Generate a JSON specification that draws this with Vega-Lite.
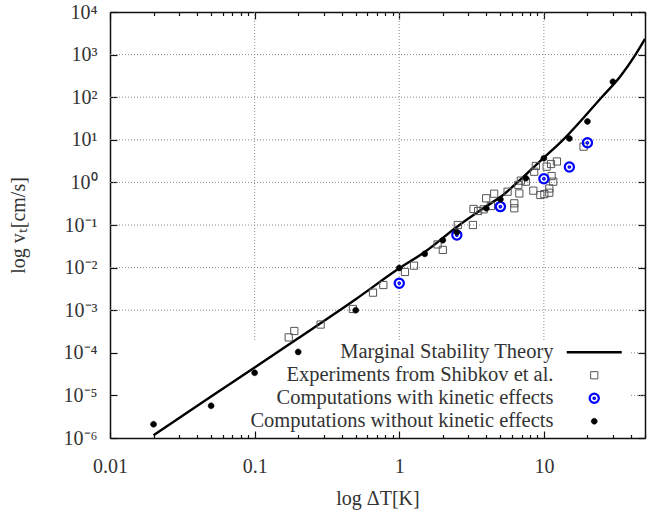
{
  "$schema": "https://vega.github.io/schema/vega-lite/v6.json",
  "width": 535,
  "height": 426,
  "autosize": {"type": "none"},
  "padding": {"left": 110, "top": 12, "right": 27, "bottom": 81},
  "background": "white",
  "config": {
    "view": {"stroke": null},
    "font": "Liberation Serif",
    "axis": {"labelFont": "Liberation Serif", "titleFont": "Liberation Serif", "labelColor": "#333", "titleColor": "#333", "titleFontWeight": "normal", "domainColor": "#111", "domainWidth": 1.5, "tickColor": "#111", "tickWidth": 1.2, "grid": false, "labelFlush": false, "labelOverlap": false},
    "legend": {"orient": "none", "legendX": 474, "legendY": 330, "title": null, "labelAlign": "right", "labelOffset": -51, "labelFont": "Liberation Serif", "labelFontSize": 20.5, "labelColor": "#333", "rowPadding": 2, "padding": 0, "symbolOpacity": 1, "labelLimit": 500, "columns": 1, "direction": "vertical", "offset": 0}
  },
  "datasets": {
    "hgrid": [
      {"v": 0.001, "from": 0.01, "to": 50},
      {"v": 0.01, "from": 0.01, "to": 50},
      {"v": 0.1, "from": 0.01, "to": 50},
      {"v": 1, "from": 0.01, "to": 50},
      {"v": 10, "from": 0.01, "to": 50},
      {"v": 100, "from": 0.01, "to": 50},
      {"v": 1000, "from": 0.01, "to": 50},
      {"v": 0.0001, "from": 40, "to": 50},
      {"v": 0.00001, "from": 40, "to": 50}
    ],
    "vgrid": [
      {"v": 0.1, "from": 0.0002, "to": 10000},
      {"v": 1, "from": 0.0002, "to": 10000},
      {"v": 10, "from": 0.0002, "to": 10000}
    ],
    "theory": [
      {"dT": 0.02, "v": 1.16e-6},
      {"dT": 0.05, "v": 9.4e-6},
      {"dT": 0.1, "v": 4.5e-5},
      {"dT": 0.2, "v": 2.19e-4},
      {"dT": 0.5, "v": 1.81e-3},
      {"dT": 1.0, "v": 9.6e-3},
      {"dT": 1.51, "v": 0.0236},
      {"dT": 2.51, "v": 0.0912},
      {"dT": 4.02, "v": 0.279},
      {"dT": 5.03, "v": 0.461},
      {"dT": 6.84, "v": 1.14},
      {"dT": 10.0, "v": 3.8},
      {"dT": 13.56, "v": 10},
      {"dT": 25.1, "v": 100},
      {"dT": 33.6, "v": 303},
      {"dT": 43.0, "v": 1000},
      {"dT": 50, "v": 2340}
    ],
    "points": [
      {"dT": 0.172, "v": 2.3e-4, "series": "Experiments from Shibkov et al."},
      {"dT": 0.188, "v": 3.25e-4, "series": "Experiments from Shibkov et al."},
      {"dT": 0.286, "v": 4.6e-4, "series": "Experiments from Shibkov et al."},
      {"dT": 0.478, "v": 1.07e-3, "series": "Experiments from Shibkov et al."},
      {"dT": 0.658, "v": 2.58e-3, "series": "Experiments from Shibkov et al."},
      {"dT": 0.776, "v": 3.9e-3, "series": "Experiments from Shibkov et al."},
      {"dT": 1.095, "v": 7.9e-3, "series": "Experiments from Shibkov et al."},
      {"dT": 1.265, "v": 0.0111, "series": "Experiments from Shibkov et al."},
      {"dT": 1.84, "v": 0.035, "series": "Experiments from Shibkov et al."},
      {"dT": 2.0, "v": 0.026, "series": "Experiments from Shibkov et al."},
      {"dT": 2.54, "v": 0.1, "series": "Experiments from Shibkov et al."},
      {"dT": 3.23, "v": 0.1, "series": "Experiments from Shibkov et al."},
      {"dT": 3.26, "v": 0.238, "series": "Experiments from Shibkov et al."},
      {"dT": 3.51, "v": 0.213, "series": "Experiments from Shibkov et al."},
      {"dT": 3.83, "v": 0.233, "series": "Experiments from Shibkov et al."},
      {"dT": 3.99, "v": 0.424, "series": "Experiments from Shibkov et al."},
      {"dT": 4.53, "v": 0.543, "series": "Experiments from Shibkov et al."},
      {"dT": 4.3, "v": 0.279, "series": "Experiments from Shibkov et al."},
      {"dT": 5.61, "v": 0.605, "series": "Experiments from Shibkov et al."},
      {"dT": 6.24, "v": 0.323, "series": "Experiments from Shibkov et al."},
      {"dT": 6.24, "v": 0.247, "series": "Experiments from Shibkov et al."},
      {"dT": 6.76, "v": 0.55, "series": "Experiments from Shibkov et al."},
      {"dT": 6.65, "v": 0.87, "series": "Experiments from Shibkov et al."},
      {"dT": 6.93, "v": 1.1, "series": "Experiments from Shibkov et al."},
      {"dT": 7.5, "v": 1.04, "series": "Experiments from Shibkov et al."},
      {"dT": 8.57, "v": 1.78, "series": "Experiments from Shibkov et al."},
      {"dT": 8.8, "v": 2.43, "series": "Experiments from Shibkov et al."},
      {"dT": 8.45, "v": 0.64, "series": "Experiments from Shibkov et al."},
      {"dT": 9.45, "v": 0.506, "series": "Experiments from Shibkov et al."},
      {"dT": 10.07, "v": 0.53, "series": "Experiments from Shibkov et al."},
      {"dT": 10.9, "v": 0.573, "series": "Experiments from Shibkov et al."},
      {"dT": 10.9, "v": 0.72, "series": "Experiments from Shibkov et al."},
      {"dT": 10.45, "v": 2.34, "series": "Experiments from Shibkov et al."},
      {"dT": 11.2, "v": 2.7, "series": "Experiments from Shibkov et al."},
      {"dT": 12.3, "v": 3.1, "series": "Experiments from Shibkov et al."},
      {"dT": 11.3, "v": 1.41, "series": "Experiments from Shibkov et al."},
      {"dT": 11.6, "v": 1.04, "series": "Experiments from Shibkov et al."},
      {"dT": 18.8, "v": 6.9, "series": "Experiments from Shibkov et al."},
      {"dT": 1.0, "v": 4.3e-3, "series": "Computations with kinetic effects"},
      {"dT": 2.5, "v": 0.058, "series": "Computations with kinetic effects"},
      {"dT": 5.0, "v": 0.27, "series": "Computations with kinetic effects"},
      {"dT": 10.0, "v": 1.22, "series": "Computations with kinetic effects"},
      {"dT": 15.0, "v": 2.3, "series": "Computations with kinetic effects"},
      {"dT": 20.0, "v": 8.5, "series": "Computations with kinetic effects"},
      {"dT": 0.02, "v": 2.1e-6, "series": "Computations without kinetic effects"},
      {"dT": 0.05, "v": 5.7e-6, "series": "Computations without kinetic effects"},
      {"dT": 0.1, "v": 3.4e-5, "series": "Computations without kinetic effects"},
      {"dT": 0.2, "v": 1.05e-4, "series": "Computations without kinetic effects"},
      {"dT": 0.5, "v": 1.0e-3, "series": "Computations without kinetic effects"},
      {"dT": 1.0, "v": 9.8e-3, "series": "Computations without kinetic effects"},
      {"dT": 1.5, "v": 0.021, "series": "Computations without kinetic effects"},
      {"dT": 2.0, "v": 0.044, "series": "Computations without kinetic effects"},
      {"dT": 2.5, "v": 0.068, "series": "Computations without kinetic effects"},
      {"dT": 4.0, "v": 0.247, "series": "Computations without kinetic effects"},
      {"dT": 5.0, "v": 0.4, "series": "Computations without kinetic effects"},
      {"dT": 7.5, "v": 1.25, "series": "Computations without kinetic effects"},
      {"dT": 10.0, "v": 3.7, "series": "Computations without kinetic effects"},
      {"dT": 15.0, "v": 10.8, "series": "Computations without kinetic effects"},
      {"dT": 20.0, "v": 27, "series": "Computations without kinetic effects"},
      {"dT": 30.0, "v": 230, "series": "Computations without kinetic effects"}
    ]
  },
  "layer": [
    {
      "data": {"name": "hgrid"},
      "mark": {"type": "rule", "color": "#8a8a8a", "strokeDash": [1, 2], "strokeWidth": 1},
      "encoding": {
        "x": {
          "field": "from", "type": "quantitative",
          "scale": {"type": "log", "domain": [0.01, 50], "nice": false},
          "axis": {
            "orient": "bottom",
            "values": [0.01, 0.02, 0.03, 0.04, 0.05, 0.06, 0.07, 0.08, 0.09, 0.1, 0.2, 0.3, 0.4, 0.5, 0.6, 0.7, 0.8, 0.9, 1, 2, 3, 4, 5, 6, 7, 8, 9, 10, 20, 30, 40, 50],
            "format": "~g",
            "labelExpr": "indexof([0.01, 0.1, 1, 10], datum.value) >= 0 ? datum.label : ''",
            "tickSize": {"expr": "indexof([0.01, 0.1, 1, 10], datum.value) >= 0 ? -7 : -3.5"},
            "labelPadding": 25,
            "labelFontSize": 20,
            "title": "log ΔT[K]",
            "titleFontSize": 20,
            "titlePadding": 9
          }
        },
        "x2": {"field": "to"},
        "y": {
          "field": "v", "type": "quantitative",
          "scale": {"type": "log", "domain": [0.000001, 10000], "nice": false},
          "axis": {
            "orient": "left",
            "values": [0.000001, 0.00001, 0.0001, 0.001, 0.01, 0.1, 1, 10, 100, 1000, 10000],
            "labelExpr": "'10' + (datum.value < 1 ? '⁻' : '') + ['⁰','¹','²','³','⁴','⁵','⁶','⁷','⁸','⁹'][abs(round(log(datum.value) / LN10))]",
            "tickSize": -7,
            "labelPadding": 20,
            "labelFontSize": 20,
            "labelAlign": "right",
            "labelBaseline": "middle",
            "title": "log vₜ[cm/s]",
            "titleFontSize": 20,
            "titlePadding": 35
          }
        }
      }
    },
    {
      "data": {"name": "vgrid"},
      "mark": {"type": "rule", "color": "#8a8a8a", "strokeDash": [1, 2], "strokeWidth": 1},
      "encoding": {
        "x": {
          "field": "v", "type": "quantitative",
          "scale": {"type": "log", "domain": [0.01, 50], "nice": false},
          "axis": {
            "orient": "top",
            "values": [0.01, 0.02, 0.03, 0.04, 0.05, 0.06, 0.07, 0.08, 0.09, 0.1, 0.2, 0.3, 0.4, 0.5, 0.6, 0.7, 0.8, 0.9, 1, 2, 3, 4, 5, 6, 7, 8, 9, 10, 20, 30, 40, 50],
            "labels": false,
            "tickSize": {"expr": "indexof([0.01, 0.1, 1, 10], datum.value) >= 0 ? -7 : -3.5"},
            "title": null
          }
        },
        "y": {
          "field": "from", "type": "quantitative",
          "scale": {"type": "log", "domain": [0.000001, 10000], "nice": false},
          "axis": {
            "orient": "right",
            "values": [0.000001, 0.00001, 0.0001, 0.001, 0.01, 0.1, 1, 10, 100, 1000, 10000],
            "labels": false,
            "tickSize": -7,
            "title": null
          }
        },
        "y2": {"field": "to"}
      }
    },
    {
      "data": {"name": "theory"},
      "mark": {"type": "line", "color": "black", "strokeWidth": 2.4, "interpolate": "monotone", "clip": true},
      "encoding": {
        "x": {"field": "dT", "type": "quantitative", "axis": null},
        "y": {"field": "v", "type": "quantitative", "axis": null}
      }
    },
    {
      "data": {"name": "points"},
      "mark": {"type": "point", "opacity": 1, "size": 100},
      "encoding": {
        "x": {"field": "dT", "type": "quantitative", "axis": null},
        "y": {"field": "v", "type": "quantitative", "axis": null},
        "shape": {
          "field": "series", "type": "nominal",
          "scale": {
            "domain": ["Marginal Stability Theory", "Experiments from Shibkov et al.", "Computations with kinetic effects", "Computations without kinetic effects"],
            "range": ["M-5.5,0L5.5,0", "M-0.72,-0.72L0.72,-0.72L0.72,0.72L-0.72,0.72Z", "M-0.92,0A0.92,0.92 0 1,0 0.92,0A0.92,0.92 0 1,0 -0.92,0M-0.15,0A0.15,0.15 0 1,0 0.15,0A0.15,0.15 0 1,0 -0.15,0", "M-0.6,0A0.6,0.6 0 1,0 0.6,0A0.6,0.6 0 1,0 -0.6,0Z"]
          }
        },
        "stroke": {
          "field": "series", "type": "nominal",
          "scale": {
            "domain": ["Marginal Stability Theory", "Experiments from Shibkov et al.", "Computations with kinetic effects", "Computations without kinetic effects"],
            "range": ["#000000", "#555555", "#0000ff", "#000000"]
          }
        },
        "fill": {
          "field": "series", "type": "nominal",
          "scale": {
            "domain": ["Marginal Stability Theory", "Experiments from Shibkov et al.", "Computations with kinetic effects", "Computations without kinetic effects"],
            "range": ["transparent", "transparent", "transparent", "#000000"]
          }
        },
        "strokeWidth": {
          "field": "series", "type": "nominal",
          "scale": {
            "type": "ordinal",
            "domain": ["Marginal Stability Theory", "Experiments from Shibkov et al.", "Computations with kinetic effects", "Computations without kinetic effects"],
            "range": [2.6, 1, 2.2, 0.5]
          }
        }
      }
    }
  ],
  "resolve": {"axis": {"x": "independent", "y": "independent"}}
}
